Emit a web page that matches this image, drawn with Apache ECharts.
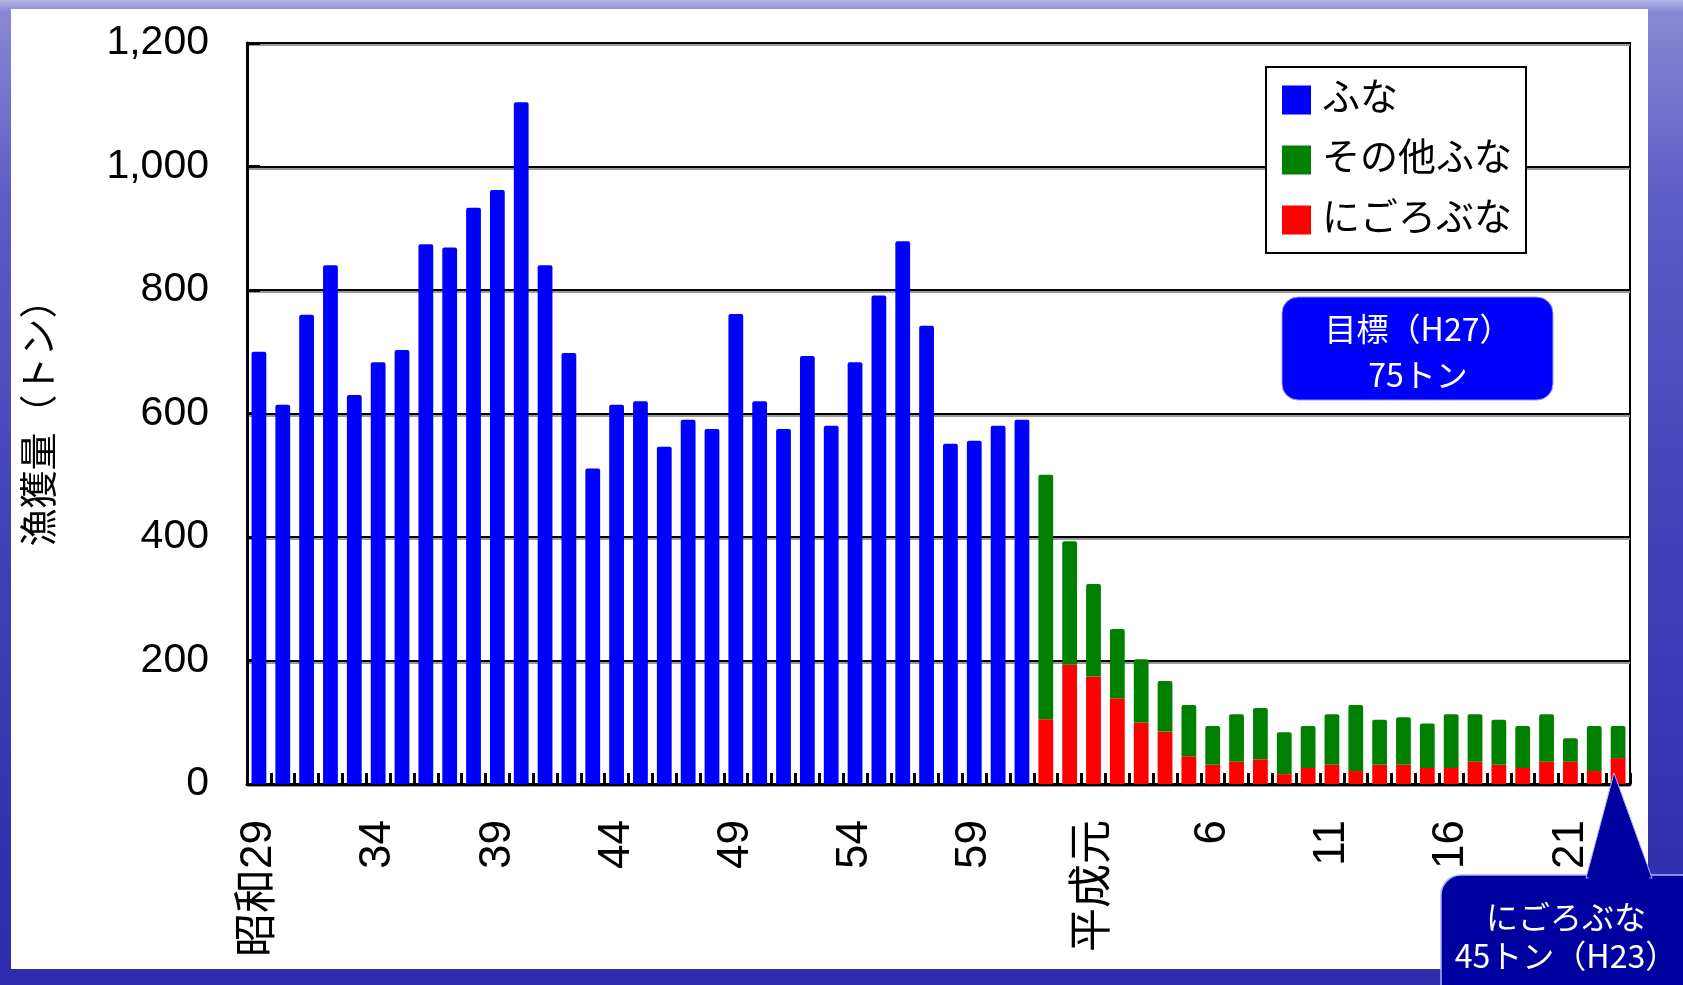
<!DOCTYPE html>
<html>
<head>
<meta charset="utf-8">
<script src="https://cdn.jsdelivr.net/npm/echarts@6/dist/echarts.min.js"></script>
<style>
html,body{margin:0;padding:0;width:1683px;height:985px;overflow:hidden;}
body{background:linear-gradient(to bottom,#b4b4e6 0px,#8888d4 12px,#5c5cc6 200px,#4040b8 550px,#2c2cac 985px);}
#panel{position:absolute;left:11px;top:9px;width:1637px;height:960px;background:#fff;}
#chart{position:absolute;left:0;top:0;width:1683px;height:985px;}
</style>
</head>
<body>
<div id="panel"></div>
<div id="chart"></div>
<script>
const categories = ["昭和29","30","31","32","33","34","35","36","37","38","39","40","41","42","43","44","45","46","47","48","49","50","51","52","53","54","55","56","57","58","59","60","61","62","63","平成元","2","3","4","5","6","7","8","9","10","11","12","13","14","15","16","17","18","19","20","21","22","23"];

// ふな (昭和29〜61)
const funa = [700,614,760,840,630,683,703,874,869,933,962,1104,840,698,511,614,620,546,590,575,761,620,575,693,580,683,791,879,742,551,556,580,590,
  null,null,null,null,null,null,null,null,null,null,null,null,null,null,null,null,null,null,null,null,null,null,null,null,null];

// その他ふな (昭和62〜平成23)
const sonotaFuna = [null,null,null,null,null,null,null,null,null,null,null,null,null,null,null,null,null,null,null,null,null,null,null,null,null,null,null,null,null,null,null,null,null,
  396,200,150,112,103,82,83,63,77,83,68,68,82,107,73,77,72,87,77,73,68,77,38,73,52];

// にごろぶな (昭和62〜平成23)
const nigorobuna = [null,null,null,null,null,null,null,null,null,null,null,null,null,null,null,null,null,null,null,null,null,null,null,null,null,null,null,null,null,null,null,null,null,
  105,193,174,139,99,85,45,31,36,40,16,26,31,21,31,31,26,26,36,31,26,36,36,21,42];

const yTicks = [0,200,400,600,800,1000,1200];

const FONT = '"Liberation Sans","Noto Sans CJK JP",sans-serif';
const BOXFONT = '32px "Noto Sans CJK JP", sans-serif';
const chart = echarts.init(document.getElementById('chart'), null, {renderer:'canvas'});

const option = {
  backgroundColor: 'transparent',
  animation: false,
  textStyle: {fontFamily: FONT},
  grid: {left: 247, right: 53, top: 43, bottom: 201, show: true, borderColor: '#000', borderWidth: 2, backgroundColor: 'transparent'},
  legend: {
    orient: 'vertical',
    left: 1266, top: 67,
    data: ['ふな','その他ふな','にごろぶな'],
    icon: 'rect',
    itemWidth: 29, itemHeight: 29,
    itemGap: 22,
    padding: [14, 14, 14, 16],
    backgroundColor: '#fff',
    borderColor: '#000', borderWidth: 2,
    textStyle: {fontSize: 38, color: '#000', fontFamily: FONT, padding: [0,0,0,6]}
  },
  xAxis: {
    type: 'category',
    data: categories,
    boundaryGap: true,
    axisLine: {lineStyle: {color: '#000', width: 3}},
    axisTick: {show: true, inside: true, length: 11, interval: 0, lineStyle: {color: '#000', width: 3}},
    axisLabel: {interval: 4, rotate: 90, fontSize: 44, color: '#000', margin: 36, fontFamily: FONT},
    splitLine: {show: false}
  },
  yAxis: {
    type: 'value',
    min: yTicks[0], max: yTicks[yTicks.length-1], interval: 200,
    name: '漁獲量（トン）',
    nameLocation: 'middle',
    nameRotate: 90,
    nameGap: 186,
    nameTextStyle: {fontSize: 38, color: '#000', fontFamily: FONT},
    axisLine: {show: true, lineStyle: {color: '#000', width: 3}},
    axisTick: {show: true, inside: true, length: 13, lineStyle: {color: '#000', width: 3}},
    axisLabel: {fontSize: 41, color: '#000', margin: 38, fontFamily: FONT,
      formatter: v => v.toLocaleString('en-US')},
    splitLine: {show: true, lineStyle: {color: '#000', width: 2, shadowColor: '#999', shadowOffsetY: 2, shadowBlur: 0}}
  },
  series: [
    {name: 'にごろぶな', type: 'bar', stack: 'a', data: nigorobuna, barWidth: '62%',
     itemStyle: {color: '#ff0000'}},
    {name: 'その他ふな', type: 'bar', stack: 'a', data: sonotaFuna, barWidth: '62%',
     itemStyle: {color: '#008000', borderRadius: [2,2,0,0]}},
    {name: 'ふな', type: 'bar', stack: 'a', data: funa, barWidth: '62%',
     itemStyle: {color: '#0000ff', borderRadius: [2,2,0,0]}}
  ],
  graphic: [
    {type: 'rect', x: 1282, y: 297, z: 100,
     shape: {x: 0, y: 0, width: 271, height: 103, r: 16},
     style: {fill: '#0000ff', stroke: '#9999ff', lineWidth: 1}},
    {type: 'text', x: 1418, y: 329, z: 101,
     style: {text: '目標（H27）', fill: '#fff', font: BOXFONT, align: 'center', verticalAlign: 'middle'}},
    {type: 'text', x: 1418, y: 375, z: 101,
     style: {text: '75トン', fill: '#fff', font: BOXFONT, align: 'center', verticalAlign: 'middle'}},
    {type: 'polygon', z: 100,
     shape: {points: [[1586, 878], [1652, 878], [1614, 773]]},
     style: {fill: '#0000a0', stroke: '#b0b0ff', lineWidth: 1}},
    {type: 'rect', x: 1441, y: 875, z: 99,
     shape: {x: 0, y: 0, width: 260, height: 140, r: 20},
     style: {fill: '#0000a0', stroke: '#b0b0ff', lineWidth: 1.5}},
    {type: 'polygon', z: 101,
     shape: {points: [[1588, 880], [1650, 880], [1614, 776]]},
     style: {fill: '#0000a0'}},
    {type: 'text', x: 1566, y: 917, z: 102,
     style: {text: 'にごろぶな', fill: '#fff', font: BOXFONT, align: 'center', verticalAlign: 'middle'}},
    {type: 'text', x: 1566, y: 956, z: 102,
     style: {text: '45トン（H23）', fill: '#fff', font: BOXFONT, align: 'center', verticalAlign: 'middle'}}
  ]
};
chart.setOption(option);
</script>
</body>
</html>
